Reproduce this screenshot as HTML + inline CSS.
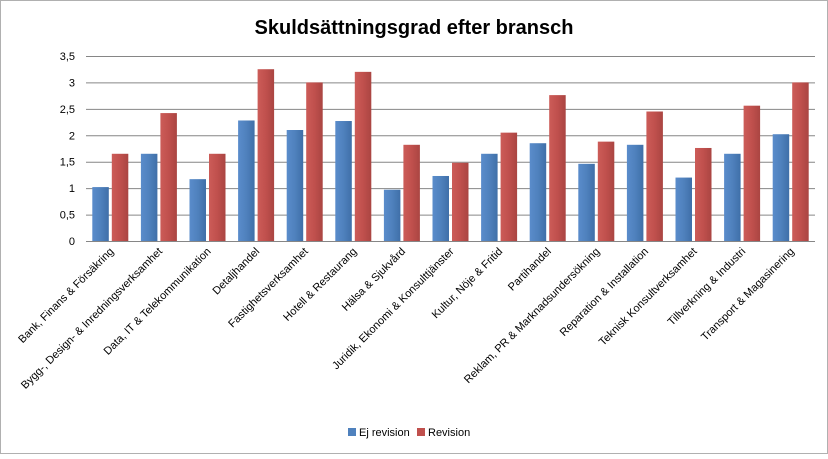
<!DOCTYPE html>
<html><head><meta charset="utf-8"><style>
html,body{margin:0;padding:0;background:#fff;}
body{width:828px;height:454px;overflow:hidden;font-family:"Liberation Sans",sans-serif;}
</style></head><body>
<svg width="828" height="454" xmlns="http://www.w3.org/2000/svg">
<defs>
<linearGradient id="gb" x1="0" x2="1" y1="0" y2="0"><stop offset="0" stop-color="#5a8ccb"/><stop offset="0.5" stop-color="#4f81bd"/><stop offset="1" stop-color="#3f6fa8"/></linearGradient>
<linearGradient id="gr" x1="0" x2="1" y1="0" y2="0"><stop offset="0" stop-color="#cc5c58"/><stop offset="0.5" stop-color="#c0504d"/><stop offset="1" stop-color="#aa4542"/></linearGradient>
</defs>
<rect x="0.5" y="0.5" width="827" height="453" fill="#fff" stroke="#b0b0b0"/>
<text x="414" y="34" text-anchor="middle" font-size="20" font-weight="bold" fill="#000">Skuldsättningsgrad efter bransch</text>
<g id="grid"></g><g id="bars"></g><g id="labels"></g>
<g>
<rect x="348" y="428" width="8" height="8" fill="#4f81bd"/>
<text x="359" y="436" font-size="11" fill="#000">Ej revision</text>
<rect x="417" y="428" width="8" height="8" fill="#c0504d"/>
<text x="428" y="436" font-size="11" fill="#000">Revision</text>
</g>
</svg>
<script>
const categories=["Bank, Finans & Försäkring","Bygg-, Design- & Inredningsverksamhet","Data, IT & Telekommunikation","Detaljhandel","Fastighetsverksamhet","Hotell & Restaurang","Hälsa & Sjukvård","Juridik, Ekonomi & Konsulttjänster","Kultur, Nöje & Fritid","Partihandel","Reklam, PR & Marknadsundersökning","Reparation & Installation","Teknisk Konsultverksamhet","Tillverkning & Industri","Transport & Magasinering"];
const ejRevision=[1.02,1.65,1.17,2.28,2.1,2.27,0.97,1.23,1.65,1.85,1.46,1.82,1.2,1.65,2.02];
const revision=[1.65,2.42,1.65,3.25,3.0,3.2,1.82,1.48,2.05,2.76,1.88,2.45,1.76,2.56,3.0];
const yTicks=[0,0.5,1,1.5,2,2.5,3,3.5];
const yTickLabels=["0","0,5","1","1,5","2","2,5","3","3,5"];
const NS="http://www.w3.org/2000/svg";
const x0=86,x1=815,yb=241,yt=56,ymax=3.5;
const y=v=>yb-(v/ymax)*(yb-yt);
const cw=(x1-x0)/categories.length;
const cx=i=>x0+cw*(i+0.5);
function mk(t,a,p){const e=document.createElementNS(NS,t);for(const k in a)e.setAttribute(k,a[k]);p.appendChild(e);return e;}
const grid=document.getElementById('grid');
yTicks.forEach((v,i)=>{
  const l=mk('line',{x1:x0,x2:x1,y1:y(v)+0.5,y2:y(v)+0.5,stroke:i==0?'#868686':'#868686','stroke-width':1},grid);
  
  
  const t=mk('text',{x:75,y:y(v)+4,'text-anchor':'end','font-size':11,fill:'#000'},grid);
  t.textContent=yTickLabels[i];
  
  
});
const bars=document.getElementById('bars');
const bw=16.5;
categories.forEach((c,i)=>{
  const b=mk('rect',{x:cx(i)-bw-1.5,y:y(ejRevision[i]),width:bw,height:yb-y(ejRevision[i]),fill:'url(#gb)'},bars);
  
  
  const r=mk('rect',{x:cx(i)+1.5,y:y(revision[i]),width:bw,height:yb-y(revision[i]),fill:'url(#gr)'},bars);
  
  
});
const labels=document.getElementById('labels');
categories.forEach((c,i)=>{
  const t=mk('text',{x:0,y:0,'text-anchor':'end','font-size':11,fill:'#000',transform:`translate(${cx(i)+4},${252}) rotate(-45)`},labels);
  t.textContent=c;
  
  
});
</script>
</body></html>
